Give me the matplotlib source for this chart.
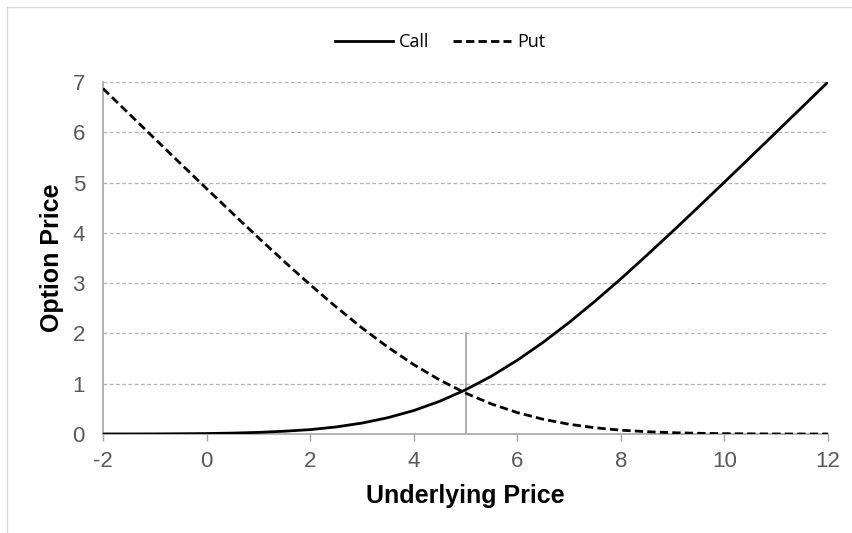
import numpy as np
import matplotlib.pyplot as plt
from matplotlib.lines import Line2D

# underlying price grid and option values
underlying = [-2, -1.5, -1, -0.5, 0, 0.5, 1, 1.5, 2, 2.5, 3, 3.5, 4, 4.5, 5,
              5.5, 6, 6.5, 7, 7.5, 8, 8.5, 9, 9.5, 10, 10.5, 11, 11.5, 12]
call = [0.0005, 0.001, 0.002, 0.005, 0.009, 0.018, 0.032, 0.055, 0.087, 0.140,
        0.217, 0.324, 0.466, 0.650, 0.878, 1.150, 1.467, 1.824, 2.217, 2.640,
        3.087, 3.553, 4.030, 4.517, 5.009, 5.504, 6.002, 6.501, 7.000]
put = [6.871, 6.371, 5.872, 5.375, 4.880, 4.390, 3.905, 3.430, 2.969, 2.528,
       2.111, 1.727, 1.380, 1.075, 0.814, 0.598, 0.426, 0.293, 0.194, 0.124,
       0.076, 0.046, 0.026, 0.014, 0.007, 0.003, 0.001, 0.0005, 0.0]
strike = 5
strike_marker_top = 2

xticks = [-2, 0, 2, 4, 6, 8, 10, 12]
yticks = [0, 1, 2, 3, 4, 5, 6, 7]

plt.rcParams['font.family'] = ['Liberation Sans', 'DejaVu Sans']

fig = plt.figure(figsize=(8.52, 5.33), dpi=100)
ax = fig.add_axes([103 / 852, 1 - 434 / 533, 725 / 852, 352 / 533])

grey = '#a6a6a6'
for yv in yticks[1:]:
    ax.axhline(yv, color='#b4b4b4', lw=0.9, ls=(0, (3, 2)), zorder=1)

ax.plot([strike, strike], [0, strike_marker_top], color=grey, lw=1.3, zorder=2)
ax.plot(underlying, call, color='black', lw=2.0, label='Call', zorder=3)
ax.plot(underlying, put, color='black', lw=2.0, ls=(0, (3, 1.5)), label='Put', zorder=3)

ax.set_xlim(-2, 12)
ax.set_ylim(0, 7)
ax.set_xticks(xticks)
ax.set_yticks(yticks)
ax.set_xticklabels([str(v) for v in xticks])
ax.tick_params(axis='x', direction='out', length=5, width=1, color=grey,
               labelsize=16, labelcolor='#595959', pad=7)
ax.tick_params(axis='y', length=0, labelsize=16, labelcolor='#595959', pad=13)

for side in ['top', 'right']:
    ax.spines[side].set_visible(False)
ax.spines['left'].set_color(grey)
ax.spines['bottom'].set_color(grey)
ax.spines['left'].set_linewidth(1.2)
ax.spines['bottom'].set_linewidth(1.2)

ax.set_xlabel('Underlying Price', fontsize=18, fontweight='bold', labelpad=9)
ax.set_ylabel('Option Price', fontsize=18, fontweight='bold', labelpad=6)

leg = fig.legend(loc='center', bbox_to_anchor=(440 / 852, 1 - 42 / 533), ncol=2,
                 frameon=False, handlelength=3.2, columnspacing=1.3,
                 handletextpad=0.35, prop={'family': 'Open Sans', 'size': 13})

# light frame around the chart area (top and left edges visible)
fig.add_artist(Line2D([7 / 852, 7 / 852], [0, 1 - 7 / 533], color='#d9d9d9', lw=1))
fig.add_artist(Line2D([7 / 852, 1], [1 - 7 / 533, 1 - 7 / 533], color='#d9d9d9', lw=1))

fig.savefig('out.png', dpi=100)
